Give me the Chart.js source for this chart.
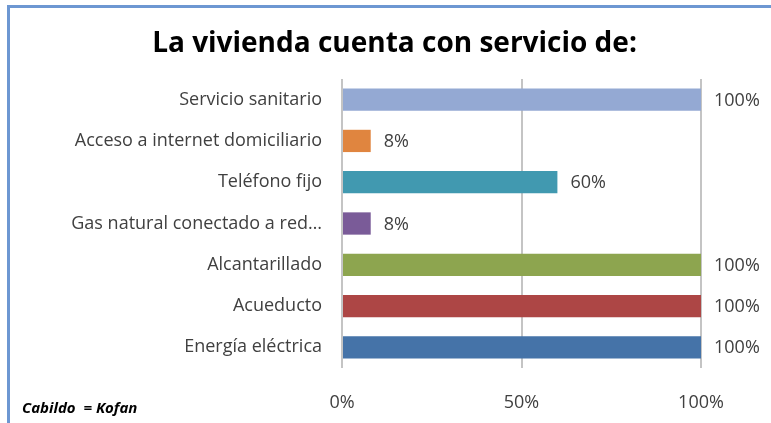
<!DOCTYPE html>
<html>
<head>
<meta charset="utf-8">
<script src="https://cdn.jsdelivr.net/npm/chart.js@4/dist/chart.umd.min.js"></script>
<style>
  html, body { margin: 0; padding: 0; background: #fff; }
  #wrap { position: relative; width: 771px; height: 423px; overflow: hidden; }
  #frame {
    position: absolute; left: 7px; top: 5px; right: -10px; bottom: -10px;
    border-top: 3px solid #6d97d2; border-left: 3px solid #6d97d2;
  }
  #note {
    position: absolute; left: 22px; top: 397px; white-space: pre;
    font: italic bold 15px "Open Sans", sans-serif; color: #000;
  }
  canvas { position: absolute; left: 0; top: 0; }
</style>
</head>
<body>
<div id="wrap">
  <div id="frame"></div>
  <canvas id="chart" width="771" height="423"></canvas>
  <div id="note">Cabildo  = Kofan</div>
</div>
<script>
// Servicios de la vivienda (porcentaje)
const categories = [
    'Servicio sanitario',
    'Acceso a internet domiciliario',
    'Teléfono fijo',
    'Gas natural conectado a red…',
    'Alcantarillado',
    'Acueducto',
    'Energía eléctrica'
];
const values = [100, 8, 60, 8, 100, 100, 100];
const barColors = ['#94a9d3', '#e0853f', '#4199b0', '#7a5b98', '#8da54f', '#ad4645', '#4573a8'];
const xTicks = [0, 50, 100];
const titleText = 'La vivienda cuenta con servicio de:';

const textColor = '#404040';
const font = '"Open Sans", sans-serif';

// Title centred on the whole picture, not on the chart area
const titlePlugin = {
    id: 'centredTitle',
    afterDraw(chart) {
        const ctx = chart.ctx;
        ctx.save();
        ctx.font = 'bold 28px ' + font;
        ctx.fillStyle = '#000';
        ctx.textAlign = 'center';
        ctx.textBaseline = 'middle';
        ctx.fillText(titleText, chart.width / 2 + 9, 44);
        ctx.restore();
    }
};

// Value labels to the right of each bar
const valueLabels = {
    id: 'valueLabels',
    afterDatasetsDraw(chart) {
        const ctx = chart.ctx;
        const meta = chart.getDatasetMeta(0);
        ctx.save();
        ctx.font = '18px ' + font;
        ctx.fillStyle = textColor;
        ctx.textAlign = 'left';
        ctx.textBaseline = 'middle';
        meta.data.forEach((bar, i) => {
            ctx.fillText(values[i] + '%', bar.x + 13, bar.y + 1);
        });
        ctx.restore();
    }
};

new Chart(document.getElementById('chart'), {
    type: 'bar',
    data: {
        labels: categories,
        datasets: [{
            data: values,
            backgroundColor: barColors,
            borderWidth: 0,
            barPercentage: 0.54,
            categoryPercentage: 1
        }]
    },
    options: {
        indexAxis: 'y',
        responsive: false,
        animation: false,
        layout: { padding: { left: 0, right: 70, top: 79, bottom: 0 } },
        plugins: {
            legend: { display: false },
            tooltip: { enabled: false },
            title: { display: false }
        },
        scales: {
            x: {
                min: 0,
                max: 100,
                afterBuildTicks(scale) {
                    scale.ticks = xTicks.map(v => ({ value: v }));
                },
                afterFit(scale) { scale.height = 55; },
                ticks: {
                    padding: 24,
                    color: textColor,
                    font: { family: font, size: 18 },
                    callback: v => v + '%'
                },
                grid: { color: '#c4c4c4', lineWidth: 2, drawTicks: false },
                border: { display: false }
            },
            y: {
                afterFit(scale) { scale.width = 342; },
                ticks: {
                    padding: 20,
                    color: textColor,
                    font: { family: font, size: 18 }
                },
                grid: { display: false, drawTicks: false },
                border: { display: false }
            }
        }
    },
    plugins: [valueLabels, titlePlugin]
});
</script>
</body>
</html>
